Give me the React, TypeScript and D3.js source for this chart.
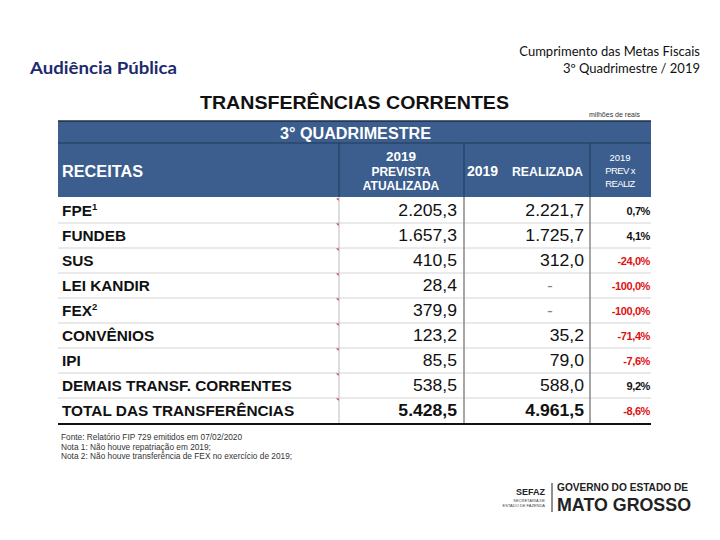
import React from "react";
import * as d3 from "d3";

const receitas = ["FPE", "FUNDEB", "SUS", "LEI KANDIR", "FEX", "CONVÊNIOS", "IPI", "DEMAIS TRANSF. CORRENTES", "TOTAL DAS TRANSFERÊNCIAS"];
const notes = ["1", "", "", "", "2", "", "", "", ""];
const prevista = ["2.205,3", "1.657,3", "410,5", "28,4", "379,9", "123,2", "85,5", "538,5", "5.428,5"];
const realizada = ["2.221,7", "1.725,7", "312,0", "-", "-", "35,2", "79,0", "588,0", "4.961,5"];
const prevXReal = [0.7, 4.1, -24.0, -100.0, -100.0, -71.4, -7.6, 9.2, -8.6];
const footnotes = [
  "Fonte: Relatório FIP 729 emitidos em 07/02/2020",
  "Nota 1: Não houve repatriação em 2019;",
  "Nota 2: Não houve transferência de FEX no exercício de 2019;",
];

const ARIAL = "'Liberation Sans', Arial, sans-serif";
const HEAD = "#3b5e8e";

export default function App() {
  const x0 = 58, x1 = 339, x2 = 464, x3 = 590, x4 = 651;
  const y = d3.scaleBand<string>().domain(receitas).range([198, 423]);
  const fmt = (v: number) => d3.format(".1f")(v).replace(".", ",").replace("\u2212", "-") + "%";
  const bw = y.bandwidth();
  const sx = 1.06;
  const vx = 1.1;
  return (
    <svg width={720} height={540} style={{ position: "absolute", left: 0, top: 0, background: "#fff" }}>
      <rect x={0} y={0} width={720} height={540} fill="#fff" />
      <text x={30} y={74} fontFamily="Lato, 'Open Sans', sans-serif" fontWeight="bold" fontSize={17.5} fill="#1d2a6e" textLength={147} lengthAdjust="spacingAndGlyphs">Audiência Pública</text>
      <text x={700} y={56} textAnchor="end" fontFamily="Lato, 'Open Sans', sans-serif" fontSize={13} fill="#111">Cumprimento das Metas Fiscais</text>
      <text x={700} y={73} textAnchor="end" fontFamily="Lato, 'Open Sans', sans-serif" fontSize={13} fill="#111">3º Quadrimestre / 2019</text>

      <text x={200} y={109} fontFamily={ARIAL} fontWeight="bold" fontSize={18} fill="#111" textLength={309} lengthAdjust="spacingAndGlyphs">TRANSFERÊNCIAS CORRENTES</text>
      <text x={640} y={117} textAnchor="end" fontFamily={ARIAL} fontSize={7} fill="#333">milhões de reais</text>

      <rect x={x0} y={121} width={x4 - x0} height={76} fill={HEAD} />
      <line x1={x0} x2={x4} y1={121} y2={121} stroke="#1e2f48" strokeWidth={1.5} />
      <line x1={x0} x2={x4} y1={143} y2={143} stroke="#23395a" strokeWidth={1} />
      {[x1, x2, x3].map((xx) => (
        <line key={xx} x1={xx} x2={xx} y1={143} y2={197} stroke="#23395a" strokeWidth={1} />
      ))}
      <text x={280} y={139} fontFamily={ARIAL} fontWeight="bold" fontSize={16} fill="#fff" textLength={151} lengthAdjust="spacingAndGlyphs">3° QUADRIMESTRE</text>
      <text x={62} y={177} fontFamily={ARIAL} fontWeight="bold" fontSize={16} fill="#fff" textLength={81} lengthAdjust="spacingAndGlyphs">RECEITAS</text>
      <text x={401} y={161} textAnchor="middle" fontFamily={ARIAL} fontWeight="bold" fontSize={13.5} fill="#fff">2019</text>
      <text x={401} y={176} textAnchor="middle" fontFamily={ARIAL} fontWeight="bold" fontSize={12} fill="#fff">PREVISTA</text>
      <text x={401} y={190} textAnchor="middle" fontFamily={ARIAL} fontWeight="bold" fontSize={12} fill="#fff">ATUALIZADA</text>
      <text x={467} y={176} fontFamily={ARIAL} fontWeight="bold" fontSize={14} fill="#fff">2019</text>
      <text x={512} y={176} fontFamily={ARIAL} fontWeight="bold" fontSize={12.5} fill="#fff" textLength={71} lengthAdjust="spacingAndGlyphs">REALIZADA</text>
      <text x={620} y={161} textAnchor="middle" fontFamily={ARIAL} fontSize={9.5} fill="#fff">2019</text>
      <text x={620} y={174} textAnchor="middle" fontFamily={ARIAL} fontSize={9.5} fill="#fff" letterSpacing={-0.6}>PREV x</text>
      <text x={620} y={187} textAnchor="middle" fontFamily={ARIAL} fontSize={9.5} fill="#fff" letterSpacing={-0.6}>REALIZ</text>

      {receitas.map((r, i) => {
        const top = y(r)!;
        const isTotal = i === receitas.length - 1;
        const base = top + bw / 2 + 5.5;
        const v = prevXReal[i];
        const dash = realizada[i] === "-";
        return (
          <g key={r}>
            {i > 0 && <line x1={x0} x2={x4} y1={top} y2={top} stroke="#d4d4d4" strokeWidth={1} />}
            <path d={`M${x1 - 3},${top + 0.5} L${x1},${top + 0.5} L${x1},${top + 3} Z`} fill="#cc2020" />
            <g transform={`translate(62,${base}) scale(${sx},1)`}>
              <text x={0} y={0} fontFamily={ARIAL} fontWeight="bold" fontSize={14.5} fill="#111">
                {r}
                {notes[i] && <tspan fontSize={9} dy={-6}>{notes[i]}</tspan>}
              </text>
            </g>
            <g transform={`translate(${x2 - 7},${base}) scale(${vx},1)`}>
              <text x={0} y={0} textAnchor="end" fontFamily={ARIAL} fontWeight={isTotal ? "bold" : "normal"} fontSize={16} fill="#111">{prevista[i]}</text>
            </g>
            <g transform={`translate(${dash ? 550 : x3 - 6},${base}) scale(${vx},1)`}>
              <text x={0} y={0} textAnchor={dash ? "middle" : "end"} fontFamily={ARIAL} fontWeight={isTotal ? "bold" : "normal"} fontSize={16} fill={dash ? "#888" : "#111"}>{realizada[i]}</text>
            </g>
            <text x={x4 - 1} y={base - 1} textAnchor="end" fontFamily={ARIAL} fontWeight="bold" fontSize={11} letterSpacing={-0.4} fill={v < 0 ? "#e01010" : "#111"}>{fmt(v)}</text>
          </g>
        );
      })}
      <line x1={x1} x2={x1} y1={197} y2={423} stroke="#bbb" strokeWidth={1} />
      <line x1={x2} x2={x2} y1={197} y2={423} stroke="#888" strokeWidth={1.5} />
      <line x1={x3} x2={x3} y1={197} y2={423} stroke="#888" strokeWidth={1.5} />
      <line x1={x0} x2={x4} y1={424} y2={424} stroke="#111" strokeWidth={2} />

      {footnotes.map((f, i) => (
        <text key={i} x={61} y={440 + i * 9.5} fontFamily={ARIAL} fontSize={8.3} fill="#333">{f}</text>
      ))}

      <text x={545} y={495} textAnchor="end" fontFamily={ARIAL} fontWeight="bold" fontSize={9} fill="#222">SEFAZ</text>
      <text x={545} y={502} textAnchor="end" fontFamily={ARIAL} fontSize={4} fill="#444">SECRETARIA DE</text>
      <text x={545} y={507} textAnchor="end" fontFamily={ARIAL} fontSize={4} fill="#444">ESTADO DE FAZENDA</text>
      <line x1={552} x2={552} y1={483} y2={512} stroke="#222" strokeWidth={1} />
      <text x={557} y={491} fontFamily={ARIAL} fontWeight="bold" fontSize={11.5} fill="#222" textLength={131} lengthAdjust="spacingAndGlyphs">GOVERNO DO ESTADO DE</text>
      <text x={557} y={511} fontFamily={ARIAL} fontWeight="bold" fontSize={19} fill="#222" textLength={134} lengthAdjust="spacingAndGlyphs">MATO GROSSO</text>
    </svg>
  );
}
